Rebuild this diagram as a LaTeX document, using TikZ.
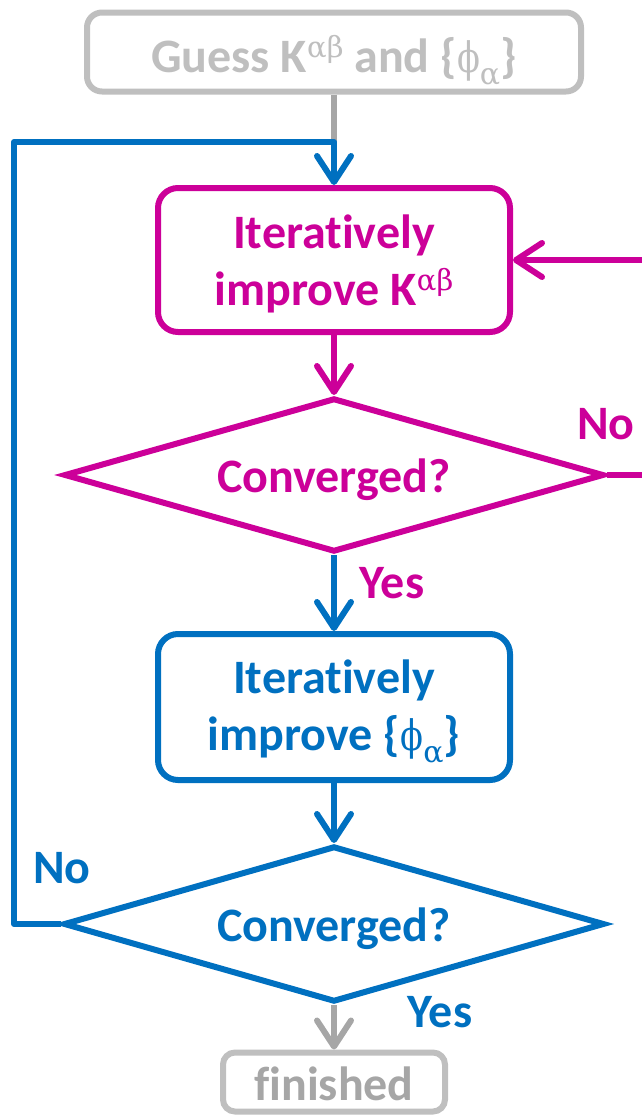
\documentclass[tikz,border=0pt]{standalone}
\usepackage{fontspec}
\setmainfont{Carlito}[Ligatures=CommonOff]
\newfontfamily\grk{DejaVu Serif}
\usetikzlibrary{shapes.geometric,arrows.meta}
\definecolor{flowmag}{HTML}{CC0099}
\definecolor{flowblue}{HTML}{0070C0}
\definecolor{startgray}{HTML}{BFBFBF}
\definecolor{donegray}{HTML}{A6A6A6}
\newcommand{\supab}{\raisebox{15pt}{\fontsize{29}{29}\selectfont\grk\mdseries αβ}}
\newcommand{\phisub}{\scalebox{0.8}[1]{\fontsize{42}{42}\selectfont\grk\mdseries ϕ}\raisebox{-12pt}{\fontsize{30}{30}\selectfont\grk\mdseries α}}

\begin{document}
\begin{tikzpicture}[x=1pt,y=-1pt,font=\fontsize{48}{57}\selectfont\bfseries,
  >={Straight Barb[length=26pt,width=34pt,round]},
  flowbox/.style={draw,line width=6pt,rounded corners=20pt,fill=white,minimum width=352pt,minimum height=144pt,align=center,inner sep=0pt},
  testbox/.style={diamond,draw,line width=6pt,aspect=3.5,minimum width=540pt,minimum height=154pt,inner sep=0pt,text height=34pt,text depth=0pt},
  endbox/.style={draw=startgray,line width=6pt,inner sep=0pt,text depth=0pt},
  link/.style={line width=6pt,line join=round}]
  \useasboundingbox (0,0) rectangle (642,1117);
  \clip (0,0) rectangle (642,1117);

  \node[endbox,rounded corners=15pt,minimum width=494pt,minimum height=79pt,text height=41pt,text=startgray] (guess) at (334,52) {Guess K\supab{} and \{\phisub\}};
  \node[flowbox,draw=flowmag,text=flowmag] (imp1) at (334,260) {\rule{0pt}{42pt}Iteratively\\improve K\supab};
  \node[testbox,draw=flowmag,text=flowmag] (conv1) at (334,475) {Converged?};
  \node[flowbox,draw=flowblue,text=flowblue,minimum height=146pt] (imp2) at (334,707) {\rule{0pt}{42pt}Iteratively\\improve \{\phisub\}};
  \node[testbox,draw=flowblue,text=flowblue,minimum width=541pt,minimum height=156pt] (conv2) at (334,924) {Converged?};
  \node[endbox,rounded corners=12pt,minimum width=222pt,minimum height=59pt,text height=37pt,text=donegray] (done) at (334,1082) {finished};

  \node[text=flowmag] (no1) at (606,424) {No};
  \node[text=flowmag] (yes1) at (392,583) {Yes};
  \node[text=flowblue] (no2) at (62,868) {No};
  \node[text=flowblue] (yes2) at (440,1012) {Yes};

  \coordinate (leftrail) at (14,142);
  \coordinate (rightrail) at (700,260);

  \draw[link,donegray] (guess.south) -- (guess.south |- leftrail);
  \draw[link,flowblue,->] (conv2.west) -| (leftrail) -| (imp1.north);
  \draw[link,flowmag,->] (conv1.east) -| (rightrail) -- (imp1.east);
  \draw[link,flowmag,->] (imp1.south) -- (conv1.north);
  \draw[link,flowblue,->] (conv1.south) -- (imp2.north);
  \draw[link,flowblue,->] (imp2.south) -- (conv2.north);
  \draw[link,donegray,->] (conv2.south) -- (done.north);
\end{tikzpicture}
\end{document}
